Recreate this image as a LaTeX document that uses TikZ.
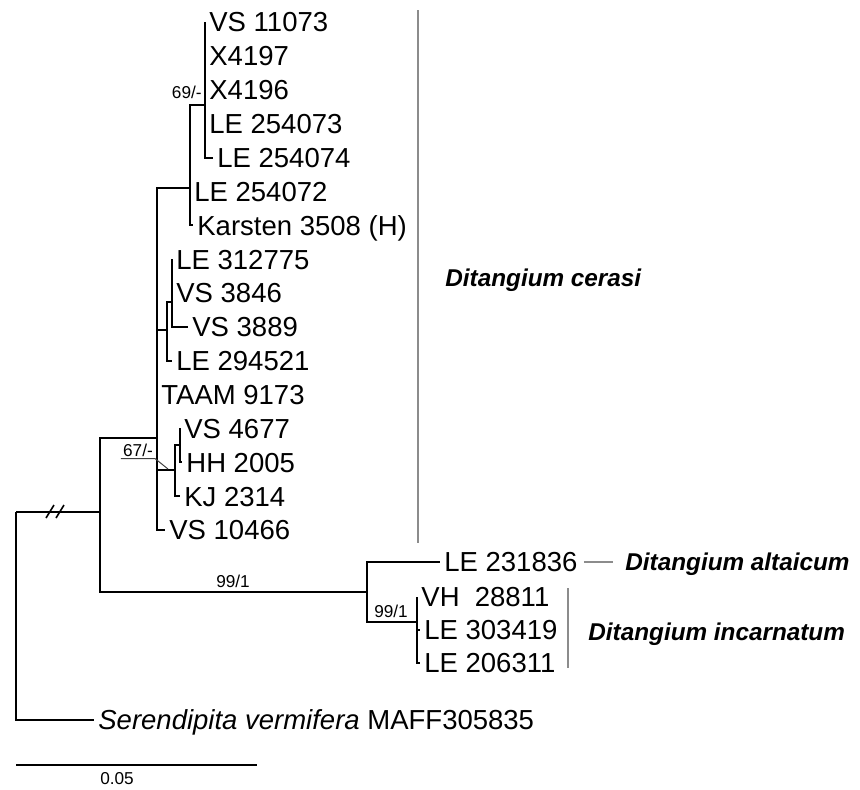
\documentclass[tikz,border=0pt]{standalone}
\usepackage{fontspec}
\setmainfont{Liberation Sans}
\usepackage{tikz}
\usetikzlibrary{positioning}

\begin{document}
\begin{tikzpicture}[
  x=0.5pt, y=-0.5pt,
  branch/.style={draw=black, line width=1pt},
  tip/.style={anchor=west, inner sep=2pt, font=\fontsize{13.75}{16}\selectfont, text height=9.9pt, text depth=0pt},
  support/.style={inner sep=1pt, font=\fontsize{8.6}{10}\selectfont},
  clade/.style={anchor=west, inner sep=2pt, font=\fontsize{12.15}{14}\selectfont\bfseries\itshape, text height=8.7pt, text depth=0pt},
  bracket/.style={draw=black!45, line width=1pt}
]
\useasboundingbox (0,0) rectangle (860,789);

% Internal nodes of the tree
\coordinate (root) at (16,512);
\coordinate (ingroup) at (100,512);
\coordinate (cerasi) at (157,438);
\coordinate (sub1) at (190,188);
\coordinate (sub1a) at (205,105);
\coordinate (sub2) at (167,330);
\coordinate (sub2a) at (172,302);
\coordinate (sub3) at (175,470);
\coordinate (sub3a) at (180,445);
\coordinate (sister) at (367,592);
\coordinate (incarn) at (417,622);

% Tips - Ditangium cerasi
\node[tip] (vs11073) at (205,22) {VS 11073};
\node[tip] (x4197) at (205,55.9) {X4197};
\node[tip] (x4196) at (205,89.7) {X4196};
\node[tip] (le254073) at (205,123.6) {LE 254073};
\node[tip] (le254074) at (213,157.5) {LE 254074};
\node[tip] (le254072) at (190,191.4) {LE 254072};
\node[tip] (karsten) at (193,225.2) {Karsten 3508 (H)};
\node[tip] (le312775) at (172,259.1) {LE 312775};
\node[tip] (vs3846) at (172,293) {VS 3846};
\node[tip] (vs3889) at (188,326.8) {VS 3889};
\node[tip] (le294521) at (172,360.7) {LE 294521};
\node[tip] (taam9173) at (157,394.6) {TAAM 9173};
\node[tip] (vs4677) at (180,428.4) {VS 4677};
\node[tip] (hh2005) at (182,462.3) {HH 2005};
\node[tip] (kj2314) at (180,496.2) {KJ 2314};
\node[tip] (vs10466) at (165,530) {VS 10466};

% Tips - other species and outgroup
\node[tip] (le231836) at (440,562) {LE 231836};
\node[tip] (vh28811) at (417,597) {VH\ \ 28811};
\node[tip] (le303419) at (420,630) {LE 303419};
\node[tip] (le206311) at (420,663) {LE 206311};
\node[tip] (serendipita) at (94,720) {\textit{Serendipita vermifera} MAFF305835};

% Branches
\draw[branch] (root) |- (ingroup);
\draw[branch] (root) |- (serendipita.west);
\draw[branch] (ingroup) |- (cerasi);
\draw[branch] (ingroup) |- (sister);
\draw[branch] (cerasi) |- (sub1);
\draw[branch] (cerasi) |- (sub2);
\draw[branch] (cerasi) |- (taam9173.west);
\draw[branch] (cerasi) |- (sub3);
\draw[branch] (cerasi) |- (vs10466.west);
\draw[branch] (sub1) |- (sub1a);
\draw[branch] (sub1) |- (le254072.west);
\draw[branch] (sub1) |- (karsten.west);
\foreach \t in {vs11073,x4197,x4196,le254073,le254074}
  \draw[branch] (sub1a) |- (\t.west);
\draw[branch] (sub2) |- (sub2a);
\draw[branch] (sub2) |- (le294521.west);
\foreach \t in {le312775,vs3846,vs3889}
  \draw[branch] (sub2a) |- (\t.west);
\draw[branch] (sub3) |- (sub3a);
\draw[branch] (sub3) |- (kj2314.west);
\draw[branch] (sub3a) |- (vs4677.west);
\draw[branch] (sub3a) |- (hh2005.west);
\draw[branch] (sister) |- (le231836.west);
\draw[branch] (sister) |- (incarn);
\foreach \t in {vh28811,le303419,le206311}
  \draw[branch] (incarn) |- (\t.west);

% Break on the root branch
\draw[line width=0.8pt] (46,518) -- (54,505);
\draw[line width=0.8pt] (56,518) -- (64,505);

% Support values
\node[support, anchor=east] (s69) at (204,92) {69/-};
\node[support] (s67) at (138,450) {67/-};
\coordinate (lead67) at (168,469);
\draw[line width=0.5pt, black!75] (s67.south west) -- (s67.south east) -- (lead67);
\node[support] (s99a) at (233,581) {99/1};
\node[support] (s99b) at (391,611) {99/1};

% Species brackets and names
\draw[bracket] (418,10) -- (418,543);
\node[clade] (dcerasi) at (441,278) {Ditangium cerasi};
\node[clade] (daltaicum) at (621,562) {Ditangium altaicum};
\draw[bracket, shorten >=4pt, shorten <=1pt] (le231836.east) -- (daltaicum.west);
\draw[bracket] (568,588) -- (568,668);
\node[clade] (dincarnatum) at (584,632) {Ditangium incarnatum};

% Scale bar
\coordinate (scaleL) at (16,765);
\coordinate (scaleR) at (257,765);
\draw[line width=1pt] (scaleL) -- (scaleR);
\node[support] (scalelab) at (117,779) {0.05};

\end{tikzpicture}
\end{document}
